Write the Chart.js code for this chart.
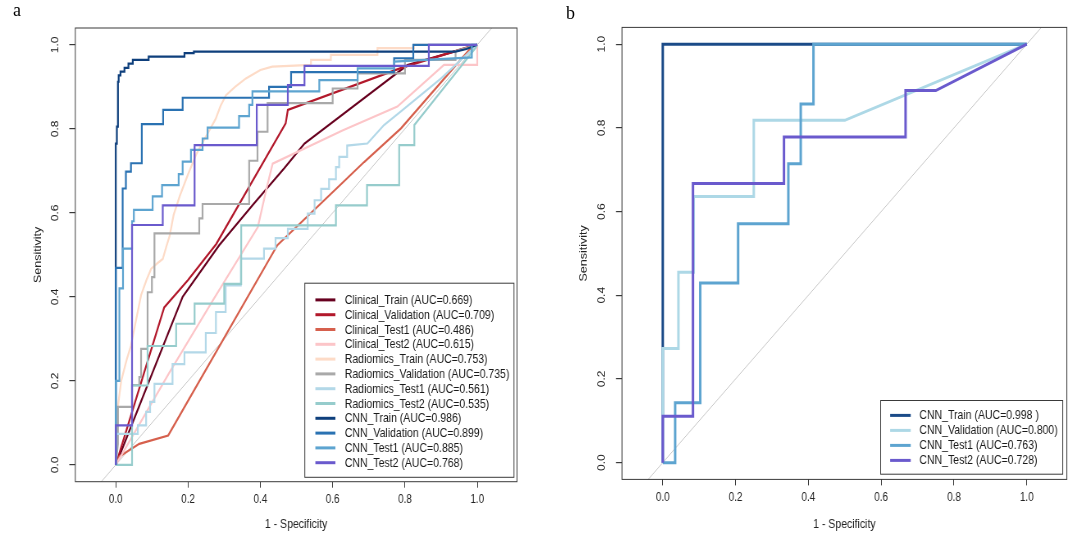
<!DOCTYPE html>
<html><head><meta charset="utf-8">
<script src="https://cdn.jsdelivr.net/npm/chart.js@4.4.1/dist/chart.umd.min.js"></script>
<style>
html,body{margin:0;padding:0;background:#fff;width:1080px;height:545px;overflow:hidden;position:relative;}
canvas{position:absolute;top:0;transform:scaleX(0.82);transform-origin:0 0;}
#ca{left:0;} #cb{left:544px;}
.lab{position:absolute;font-family:'Liberation Serif','Times New Roman',serif;color:#000;font-size:18px;line-height:normal;}
</style></head><body>
<canvas id="ca" width="663" height="545"></canvas>
<canvas id="cb" width="654" height="545"></canvas>
<div class="lab" style="left:13px;top:0px;">a</div>
<div class="lab" style="left:566px;top:3px;">b</div>
<script>
// ---------- axis / text ----------
const xTicks = [0, 0.2, 0.4, 0.6, 0.8, 1.0];
const yTicks = [0, 0.2, 0.4, 0.6, 0.8, 1.0];
const xTitle = '1 - Specificity';
const yTitle = 'Sensitivity';

// ---------- panel a : ROC curves (x = 1 - specificity, y = sensitivity) ----------
const clinTrainX = [0, 0.185, 0.286, 0.38, 0.466, 0.522, 0.807, 0.982, 1];
const clinTrainY = [0, 0.40, 0.523, 0.62, 0.706, 0.765, 0.952, 0.995, 1];

const clinValX = [0, 0.134, 0.2, 0.278, 0.47, 0.476, 0.79, 0.977, 1];
const clinValY = [0, 0.375, 0.44, 0.526, 0.813, 0.845, 0.945, 0.995, 1];

const clinTest1X = [0, 0.01, 0.065, 0.145, 0.447, 0.687, 0.789, 0.98, 1];
const clinTest1Y = [0, 0.02, 0.05, 0.07, 0.523, 0.721, 0.801, 0.99, 1];

const clinTest2X = [0, 0.149, 0.269, 0.393, 0.416, 0.434, 0.627, 0.779, 0.908, 1, 1];
const clinTest2Y = [0, 0.221, 0.392, 0.566, 0.654, 0.717, 0.796, 0.853, 0.952, 0.952, 1];

const radTrainX = [0, 0.005, 0.006, 0.015, 0.03, 0.042, 0.055, 0.07, 0.085, 0.098, 0.115, 0.13, 0.14, 0.149, 0.16, 0.177, 0.2, 0.223, 0.245, 0.276, 0.29, 0.305, 0.33, 0.36, 0.4, 0.433, 0.54, 0.54, 0.595, 0.595, 0.724, 0.724, 0.825, 0.825, 1];
const radTrainY = [0, 0.1, 0.14, 0.2, 0.25, 0.284, 0.34, 0.404, 0.44, 0.467, 0.48, 0.49, 0.52, 0.545, 0.595, 0.64, 0.692, 0.74, 0.775, 0.823, 0.855, 0.88, 0.9, 0.92, 0.94, 0.948, 0.952, 0.964, 0.964, 0.976, 0.976, 0.992, 0.992, 1, 1];

const radValX = [0, 0.006, 0.006, 0.045, 0.045, 0.065, 0.065, 0.07, 0.07, 0.088, 0.088, 0.1, 0.1, 0.107, 0.107, 0.231, 0.231, 0.24, 0.24, 0.369, 0.369, 0.392, 0.392, 0.42, 0.42, 0.6, 0.6, 0.669, 0.669, 0.8, 0.8, 0.94, 0.94, 1];
const radValY = [0, 0.05, 0.138, 0.138, 0.19, 0.19, 0.209, 0.209, 0.276, 0.276, 0.411, 0.411, 0.447, 0.447, 0.551, 0.551, 0.587, 0.587, 0.621, 0.621, 0.724, 0.724, 0.793, 0.793, 0.861, 0.861, 0.896, 0.896, 0.932, 0.932, 0.964, 0.964, 0.985, 1];

const radTest1X = [0, 0, 0.061, 0.061, 0.084, 0.084, 0.095, 0.095, 0.107, 0.107, 0.157, 0.157, 0.19, 0.19, 0.249, 0.249, 0.277, 0.277, 0.304, 0.304, 0.346, 0.346, 0.41, 0.41, 0.442, 0.442, 0.476, 0.476, 0.531, 0.531, 0.55, 0.55, 0.568, 0.568, 0.59, 0.59, 0.609, 0.609, 0.618, 0.618, 0.64, 0.64, 0.696, 0.742, 0.788, 0.9, 0.99, 1];
const radTest1Y = [0, 0.074, 0.074, 0.094, 0.094, 0.126, 0.126, 0.15, 0.15, 0.193, 0.193, 0.24, 0.24, 0.268, 0.268, 0.314, 0.314, 0.364, 0.364, 0.427, 0.427, 0.491, 0.491, 0.515, 0.515, 0.54, 0.54, 0.562, 0.562, 0.598, 0.598, 0.63, 0.63, 0.657, 0.657, 0.68, 0.68, 0.709, 0.709, 0.733, 0.733, 0.76, 0.765, 0.809, 0.841, 0.92, 0.992, 1];

const radTest2X = [0, 0.045, 0.045, 0.088, 0.088, 0.167, 0.167, 0.218, 0.218, 0.3, 0.3, 0.347, 0.347, 0.609, 0.609, 0.695, 0.695, 0.784, 0.784, 0.826, 0.826, 0.995, 1];
const radTest2Y = [0, 0, 0.189, 0.189, 0.283, 0.283, 0.336, 0.336, 0.384, 0.384, 0.431, 0.431, 0.57, 0.57, 0.618, 0.618, 0.666, 0.666, 0.761, 0.761, 0.809, 0.992, 1];

const cnnTrainX = [0, 0, 0.003, 0.003, 0.006, 0.006, 0.008, 0.008, 0.013, 0.013, 0.024, 0.024, 0.035, 0.035, 0.047, 0.047, 0.091, 0.091, 0.19, 0.19, 0.216, 0.216, 0.94, 0.97, 1];
const cnnTrainY = [0, 0.765, 0.765, 0.805, 0.805, 0.912, 0.912, 0.927, 0.927, 0.936, 0.936, 0.945, 0.945, 0.955, 0.955, 0.964, 0.964, 0.972, 0.972, 0.98, 0.98, 0.984, 0.984, 0.99, 1];

const cnnValX = [0, 0, 0.019, 0.019, 0.028, 0.028, 0.042, 0.042, 0.072, 0.072, 0.131, 0.131, 0.185, 0.185, 0.424, 0.424, 0.485, 0.485, 0.77, 0.77, 0.823, 0.823, 1];
const cnnValY = [0, 0.469, 0.469, 0.658, 0.658, 0.698, 0.698, 0.718, 0.718, 0.811, 0.811, 0.845, 0.845, 0.874, 0.874, 0.90, 0.90, 0.935, 0.935, 0.968, 0.968, 1, 1];

const cnnTest1X = [0, 0, 0.01, 0.01, 0.02, 0.02, 0.045, 0.045, 0.05, 0.05, 0.102, 0.102, 0.128, 0.128, 0.174, 0.174, 0.185, 0.185, 0.208, 0.208, 0.24, 0.24, 0.254, 0.254, 0.341, 0.341, 0.369, 0.369, 0.378, 0.378, 0.563, 0.563, 0.669, 0.669, 0.77, 0.77, 0.985, 0.985, 1];
const cnnTest1Y = [0, 0.2, 0.2, 0.42, 0.42, 0.515, 0.515, 0.58, 0.58, 0.607, 0.607, 0.639, 0.639, 0.666, 0.666, 0.692, 0.692, 0.722, 0.722, 0.75, 0.75, 0.777, 0.777, 0.803, 0.803, 0.83, 0.83, 0.857, 0.857, 0.889, 0.889, 0.916, 0.916, 0.944, 0.944, 0.96, 0.97, 1, 1];

const cnnTest2X = [0, 0, 0.045, 0.045, 0.13, 0.13, 0.218, 0.218, 0.39, 0.39, 0.476, 0.476, 0.522, 0.522, 0.866, 0.866, 1];
const cnnTest2Y = [0, 0.094, 0.094, 0.571, 0.571, 0.618, 0.618, 0.761, 0.761, 0.857, 0.857, 0.904, 0.904, 0.95, 0.95, 1, 1];

const panelALabels = [
  'Clinical_Train (AUC=0.669)', 'Clinical_Validation (AUC=0.709)', 'Clinical_Test1 (AUC=0.486)', 'Clinical_Test2 (AUC=0.615)',
  'Radiomics_Train (AUC=0.753)', 'Radiomics_Validation (AUC=0.735)', 'Radiomics_Test1 (AUC=0.561)', 'Radiomics_Test2 (AUC=0.535)',
  'CNN_Train (AUC=0.986)', 'CNN_Validation (AUC=0.899)', 'CNN_Test1 (AUC=0.885)', 'CNN_Test2 (AUC=0.768)'
];
const panelAColors = ['#67001F', '#B2182B', '#D6604D', '#FCC5C8', '#FDDBC7', '#A9A9A9', '#B3D8E8', '#96CCCC', '#0E3F7C', '#2A72B2', '#5DA4D0', '#6A5ACD'];

// ---------- panel b ----------
const bTrainX = [0, 0, 1];
const bTrainY = [0, 1, 1];
const bValX = [0, 0, 0.043, 0.043, 0.085, 0.085, 0.25, 0.25, 0.5, 1];
const bValY = [0, 0.273, 0.273, 0.455, 0.455, 0.636, 0.636, 0.818, 0.818, 1];
const bTest1X = [0, 0.034, 0.034, 0.103, 0.103, 0.207, 0.207, 0.345, 0.345, 0.379, 0.379, 0.414, 0.414, 1];
const bTest1Y = [0, 0, 0.143, 0.143, 0.429, 0.429, 0.571, 0.571, 0.714, 0.714, 0.857, 0.857, 1, 1];
const bTest2X = [0, 0, 0.083, 0.083, 0.333, 0.333, 0.667, 0.667, 0.75, 1];
const bTest2Y = [0, 0.111, 0.111, 0.667, 0.667, 0.778, 0.778, 0.889, 0.889, 1];

const panelBLabels = ['CNN_Train (AUC=0.998 )', 'CNN_Validation (AUC=0.800)', 'CNN_Test1 (AUC=0.763)', 'CNN_Test2 (AUC=0.728)'];
const panelBColors = ['#1B4B88', '#ADD8E6', '#5DA4D0', '#6A5ACD'];

// diagonal reference line endpoints (extended, clipped by the plot area)
const diagX = [-0.2, 1.2];
const diagY = [-0.2, 1.2];

// ---------- drawing ----------
const FONT = "'Liberation Sans', Arial, sans-serif";
Chart.defaults.font.family = FONT;

function pts(xs, ys) { return xs.map((x, i) => ({ x: x, y: ys[i] })); }

const framePlugin = {
  id: 'rocFrame',
  afterDatasetsDraw(chart, args, o) {
    const { ctx, chartArea: a } = chart;
    ctx.save();
    ctx.strokeStyle = '#3a3a3a'; ctx.lineWidth = 1;
    ctx.strokeRect(a.left, a.top, a.right - a.left, a.bottom - a.top);
    const ds = chart.data.datasets.filter(d => d.label);
    ctx.font = o.fontSize + 'px ' + FONT;
    const tw = Math.max(...ds.map(d => ctx.measureText(d.label).width));
    const w = o.padL + o.lineLen + o.gap + tw + o.padR;
    const h = o.padT + (ds.length - 1) * o.rowH + o.padB;
    const right = a.right - o.insetR, bottom = a.bottom - o.insetB;
    const left = right - w, top = bottom - h;
    ctx.fillStyle = '#fff'; ctx.fillRect(left, top, w, h);
    ctx.strokeStyle = '#3a3a3a'; ctx.lineWidth = 1;
    ctx.strokeRect(left, top, w, h);
    ds.forEach((d, i) => {
      const y = top + o.padT + i * o.rowH;
      ctx.strokeStyle = d.borderColor; ctx.lineWidth = o.lineW;
      ctx.beginPath(); ctx.moveTo(left + o.padL, y); ctx.lineTo(left + o.padL + o.lineLen, y); ctx.stroke();
      ctx.fillStyle = '#1a1a1a'; ctx.textBaseline = 'middle'; ctx.textAlign = 'left';
      ctx.fillText(d.label, left + o.padL + o.lineLen + o.gap, y + 0.5);
    });
    ctx.restore();
  }
};

function makeChart(id, xs, ys, labels, colors, g) {
  const n = labels.length;
  const datasets = [{
    data: pts(diagX, diagY), borderColor: '#c6c6c6', borderWidth: 1,
    showLine: true, pointRadius: 0, order: n + 1
  }];
  labels.forEach((lab, i) => {
    datasets.push({
      label: lab, data: pts(xs[i], ys[i]), borderColor: colors[i], backgroundColor: colors[i],
      borderWidth: g.lineW, showLine: true, pointRadius: 0, tension: 0, fill: false,
      borderJoinStyle: 'miter', borderCapStyle: 'butt', order: n - i
    });
  });
  return new Chart(document.getElementById(id), {
    type: 'scatter',
    data: { datasets: datasets },
    options: {
      responsive: false, animation: false, events: [], devicePixelRatio: 1,
      layout: { padding: { top: g.padTop, right: g.padRight, left: 0, bottom: 0 } },
      plugins: { legend: { display: false }, tooltip: { enabled: false }, rocFrame: g.legend },
      scales: {
        x: {
          type: 'linear', min: -0.112, max: 1.11,
          afterBuildTicks: s => { s.ticks = xTicks.map(v => ({ value: v })); },
          afterFit: s => { s.height = g.xHeight; },
          ticks: { color: '#222', font: { size: 12 }, padding: 5, maxRotation: 0, minRotation: 0, autoSkip: false,
                   callback: v => Number(v).toFixed(1) },
          grid: { drawOnChartArea: false, drawTicks: true, tickLength: 6, color: '#3a3a3a', lineWidth: 1 },
          border: { display: false },
          title: { display: true, text: xTitle, color: '#222', font: { size: 12.8 }, padding: { top: 0, bottom: g.xTitlePad } }
        },
        y: {
          type: 'linear', min: -0.04, max: 1.04,
          afterBuildTicks: s => { s.ticks = yTicks.map(v => ({ value: v })); },
          afterFit: s => { s.width = g.yWidth; },
          ticks: { color: '#222', font: { size: 12 }, padding: g.yTickPad, minRotation: 90, maxRotation: 90, crossAlign: 'center',
                   autoSkip: false, callback: v => Number(v).toFixed(1) },
          grid: { drawOnChartArea: false, drawTicks: true, tickLength: 7.3, color: '#3a3a3a', lineWidth: 1.2 },
          border: { display: false },
          title: { display: true, text: yTitle, color: '#222', font: { size: 12.5 }, padding: { top: g.yTitlePad, bottom: 0 } }
        }
      }
    },
    plugins: [framePlugin]
  });
}

makeChart('ca',
  [clinTrainX, clinValX, clinTest1X, clinTest2X, radTrainX, radValX, radTest1X, radTest2X, cnnTrainX, cnnValX, cnnTest1X, cnnTest2X],
  [clinTrainY, clinValY, clinTest1Y, clinTest2Y, radTrainY, radValY, radTest1Y, radTest2Y, cnnTrainY, cnnValY, cnnTest1Y, cnnTest2Y],
  panelALabels, panelAColors,
  { padTop: 28, padRight: 32.5, yWidth: 91.8, xHeight: 63.3, yTickPad: 8.5, yTitlePad: 38.6, xTitlePad: 13, lineW: 2.2,
    legend: { fontSize: 12.8, rowH: 14.8, padT: 16.7, padB: 14.6, padL: 12.9, lineLen: 24.4, gap: 11.5, padR: 5.6, lineW: 3, insetR: 3.7, insetB: 4.4 } });

makeChart('cb',
  [bTrainX, bValX, bTest1X, bTest2X],
  [bTrainY, bValY, bTest1Y, bTest2Y],
  panelBLabels, panelBColors,
  { padTop: 27.4, padRight: 16.4, yWidth: 95.1, xHeight: 65.6, yTickPad: 8.7, yTitlePad: 41.4, xTitlePad: 12.5, lineW: 3,
    legend: { fontSize: 12.8, rowH: 15, padT: 14.9, padB: 13.8, padL: 11.6, lineLen: 25.1, gap: 10.6, padR: 6.1, lineW: 3, insetR: 5, insetB: 5.2 } });
</script>
</body></html>
